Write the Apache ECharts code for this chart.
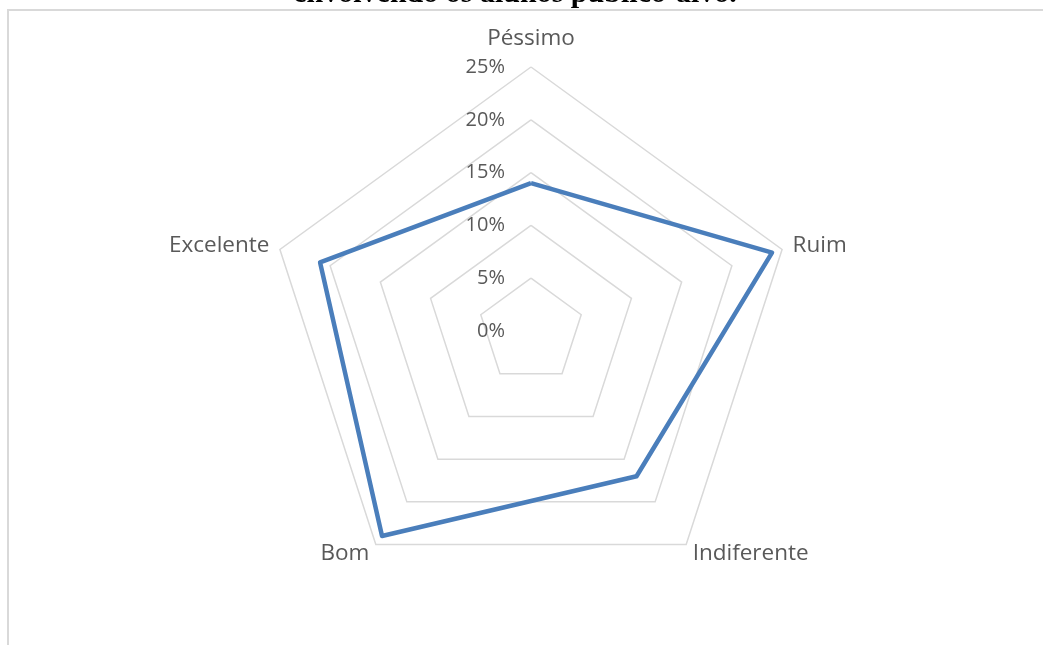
<!DOCTYPE html>
<html>
<head>
<meta charset="utf-8">
<script src="https://cdn.jsdelivr.net/npm/echarts@6/dist/echarts.min.js"></script>
<style>
  html, body { margin: 0; padding: 0; background: #fff; }
  #chart { width: 1043px; height: 645px; position: relative; }
  .frame {
    position: absolute; left: 7px; top: 9px; right: -10px; bottom: -10px;
    border-left: 2px solid #d9d9d9; border-top: 2px solid #d9d9d9;
    pointer-events: none;
  }
</style>
</head>
<body>
<div style="position:relative;width:1043px;height:645px;">
  <div id="chart"></div>
  <div class="frame"></div>
</div>
<script>
// categories in the order of the source sheet (clockwise from top)
const categories = ['Péssimo', 'Ruim', 'Indiferente', 'Bom', 'Excelente']
const values = [14, 24, 17, 24, 21]
const maxValue = 25
const tickStep = 5

const textColor = '#595959'
const labelFont = '"Open Sans", Lato, sans-serif'

// echarts lays indicators out counterclockwise, so keep the first one and reverse the rest
const order = [0].concat(categories.slice(1).map((_, i) => categories.length - 1 - i))
const indicator = order.map((idx, k) => {
  const item = { name: categories[idx], min: 0, max: maxValue }
  if (k > 0) item.axisLabel = { show: false }
  else item.nameGap = 17 // top label sits a bit higher
  return item
})
const seriesValues = order.map(idx => values[idx])

let mychart = echarts.init(document.getElementById('chart'))
mychart.setOption({
  animation: false,
  title: {
    text: 'envolvendo os alunos público-alvo.',
    left: 510,
    textAlign: 'center',
    top: -26,
    textStyle: {
      fontFamily: '"Liberation Serif", "Times New Roman", serif',
      fontWeight: 'bold',
      fontSize: 30,
      color: '#000',
    },
  },
  radar: {
    center: [531, 331],
    radius: 264,
    startAngle: 90,
    splitNumber: maxValue / tickStep,
    shape: 'polygon',
    indicator: indicator,
    axisName: {
      color: textColor,
      fontFamily: labelFont,
      fontSize: 22.5,
    },
    nameGap: 11,
    axisLine: { show: false },
    axisTick: { show: false },
    splitArea: { show: false },
    splitLine: {
      lineStyle: { color: '#d9d9d9', width: 1.5 },
    },
    axisLabel: {
      show: true,
      color: textColor,
      fontFamily: labelFont,
      fontSize: 20,
      margin: 26,
      formatter: '{value}%',
    },
  },
  series: [
    {
      type: 'radar',
      symbol: 'none',
      lineStyle: { color: '#4a7ebb', width: 4.5 },
      data: [{ value: seriesValues, name: 'Série' }],
    },
  ],
})
</script>
</body>
</html>
